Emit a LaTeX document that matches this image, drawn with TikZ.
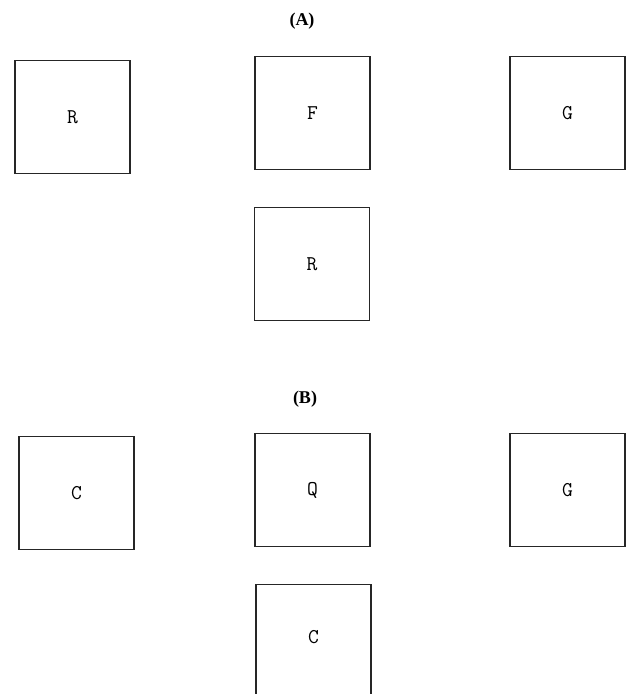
\documentclass[tikz,border=0pt]{standalone}
\usepackage{fontspec}
\setmainfont{Liberation Serif}
\begin{document}
\begin{tikzpicture}[x=1pt,y=-1pt,
  boxnode/.style={draw=black!85,line width=1.4pt,minimum width=115pt,minimum height=113pt,inner sep=0pt,font=\ttfamily\fontsize{21}{24}\selectfont},
  panellabel/.style={inner sep=0pt,font=\bfseries\fontsize{18}{20}\selectfont}]
\useasboundingbox (0,0) rectangle (628,694);
\clip (0,0) rectangle (628,694);
\node[panellabel] (labA) at (302,21) {(A)};
\node[boxnode] (R1) at (72.5,117) {R};
\node[boxnode] (F)  at (312.5,113) {F};
\node[boxnode] (G1) at (567.5,113) {G};
\node[boxnode] (R2) at (312,264) {R};
\node[panellabel] (labB) at (305,399) {(B)};
\node[boxnode] (C1) at (76.5,493) {C};
\node[boxnode] (Q)  at (312.5,490) {Q};
\node[boxnode] (G2) at (567.5,490) {G};
\node[boxnode] (C2) at (313.5,641) {\raisebox{8pt}{C}};
\end{tikzpicture}
\end{document}
